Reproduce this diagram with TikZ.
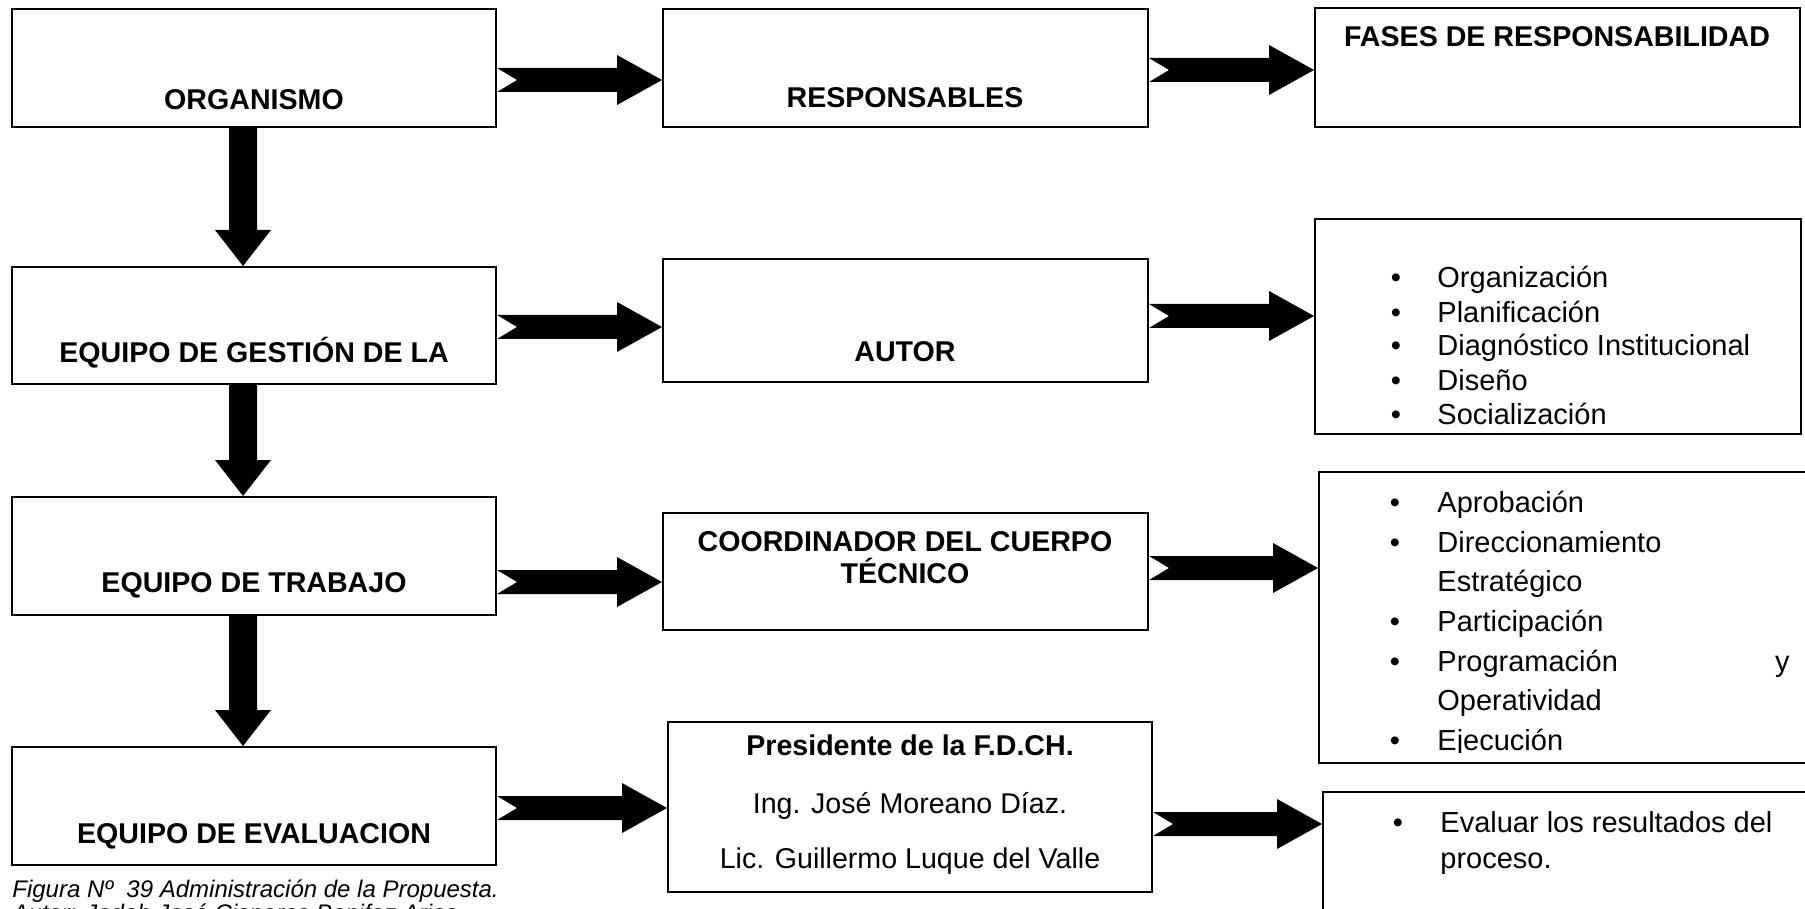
\documentclass[tikz,border=0pt]{standalone}
\usepackage{fontspec}
\setmainfont{Liberation Sans}
\usetikzlibrary{calc,fit}
\tikzset{
  box/.style={draw=black, line width=1pt, inner sep=0pt, fill=none},
  blbl/.style={font=\bfseries\fontsize{14.3}{17}\selectfont, anchor=base, inner sep=0pt},
  clbl/.style={font=\fontsize{14.3}{17}\selectfont, anchor=base, inner sep=0pt},
  itm/.style={font=\fontsize{14.5}{17}\selectfont, anchor=base west, inner sep=0pt},
  bul/.style={font=\fontsize{14.5}{17}\selectfont, anchor=base, inner sep=0pt},
  captxt/.style={font=\itshape\fontsize{12}{14}\selectfont, anchor=base west, inner sep=0pt},
}
\newcommand{\mkbox}[5]{%
  \coordinate (#1-nw) at (#2,#3);
  \coordinate (#1-se) at (#4,#5);
  \node[box, fit=(#1-nw)(#1-se)] (#1) {};}
\newcommand{\harr}[3]{%
  \coordinate (hy) at (0,#3);
  \coordinate (hs) at (#1.east |- hy);
  \coordinate (he) at (#2.west |- hy);
  \fill ($(hs)+(0,-12)$) -- ($(he)+(-45,-12)$) -- ($(he)+(-45,-25)$) -- (he)
    -- ($(he)+(-45,25)$) -- ($(he)+(-45,12)$) -- ($(hs)+(0,12)$) -- ($(hs)+(20,0)$) -- cycle;}
\newcommand{\varr}[2]{%
  \coordinate (vx) at (243,0);
  \coordinate (vs) at (vx |- #1.south);
  \coordinate (ve) at (vx |- #2.north);
  \fill ($(vs)+(-14,0)$) -- ($(ve)+(-14,-36)$) -- ($(ve)+(-28,-36)$) -- (ve)
    -- ($(ve)+(28,-36)$) -- ($(ve)+(14,-36)$) -- ($(vs)+(14,0)$) -- cycle;}
\begin{document}
\begin{tikzpicture}[x=0.5pt,y=-0.5pt]
\useasboundingbox (0,0) rectangle (1805,909);
\clip (0,0) rectangle (1805,909);
% boxes
\mkbox{org}{12}{9}{496}{127}
\mkbox{gest}{12}{267}{496}{384}
\mkbox{trab}{12}{497}{496}{615}
\mkbox{eval}{12}{747}{496}{865}
\mkbox{resp}{663}{9}{1148}{127}
\mkbox{autor}{663}{259}{1148}{382}
\mkbox{coord}{663}{513}{1148}{630}
\mkbox{pres}{668}{722}{1152}{892}
\mkbox{fases}{1315}{8}{1800}{127}
\mkbox{lista}{1315}{219}{1801}{434}
\mkbox{listb}{1319}{472}{1830}{763}
\mkbox{listc}{1323}{792}{1830}{940}
% vertical arrows
\varr{org}{gest}
\varr{gest}{trab}
\varr{trab}{eval}
% horizontal arrows
\harr{org}{resp}{80}
\harr{resp}{fases}{70}
\harr{gest}{autor}{327}
\harr{autor}{lista}{316}
\harr{trab}{coord}{582}
\harr{coord}{listb}{568}
\harr{eval}{pres}{808}
\harr{pres}{listc}{824}
% labels column 1
\node[blbl] (t-org) at (254,110) {ORGANISMO};
\node[blbl] (t-gest) at (254,363) {EQUIPO DE GESTIÓN DE LA};
\node[blbl] (t-trab) at (254,592) {EQUIPO DE TRABAJO};
\node[blbl] (t-eval) at (254,843) {EQUIPO DE EVALUACION};
% labels column 2
\node[blbl] (t-resp) at (905,108) {RESPONSABLES};
\node[blbl] (t-autor) at (905,361) {AUTOR};
\node[blbl] (t-coord1) at (905,551) {COORDINADOR DEL CUERPO};
\node[blbl] (t-coord2) at (905,583) {TÉCNICO};
\node[blbl] (t-pres1) at (910,755) {Presidente de la F.D.CH.};
\node[clbl] (t-pres2) at (910,813) {Ing. José Moreano Díaz.};
\node[clbl] (t-pres3) at (910,868) {Lic. Guillermo Luque del Valle};
% column 3
\node[blbl] (t-fases) at (1557,47) {FASES DE RESPONSABILIDAD};
\foreach \t/\yy [count=\i] in {Organización/288, Planificación/322, Diagnóstico Institucional/356, Diseño/390, Socialización/424}{
  \node[bul] (ba\i) at (1396,\yy) {•};
  \node[itm] (ia\i) at (1437,\yy) {\t};
}
\begin{scope}
\clip (1300,460) rectangle (1805,752);
\node[bul] (bb1) at (1395,512) {•};
\node[itm] (ib1) at (1437,512) {Aprobación};
\node[bul] (bb2) at (1395,552) {•};
\node[itm] (ib2) at (1437,552) {Direccionamiento};
\node[itm] (ib3) at (1437,591) {Estratégico};
\node[bul] (bb4) at (1395,631) {•};
\node[itm] (ib4) at (1437,631) {Participación};
\node[bul] (bb5) at (1395,671) {•};
\node[itm] (ib5) at (1437,671) {Programación};
\node[itm, anchor=base east] (ib5y) at (1790,671) {y};
\node[itm] (ib6) at (1437,710) {Operatividad};
\node[bul] (bb7) at (1395,750) {•};
\node[itm] (ib7) at (1437,750) {Ejecución};
\end{scope}
\node[bul] (bc1) at (1398,832) {•};
\node[itm] (ic1) at (1440,832) {Evaluar los resultados del};
\node[itm] (ic2) at (1440,868) {proceso.};
% caption
\node[captxt] (cap1) at (12,897) {Figura Nº~ 39 Administración de la Propuesta.};
\node[captxt] (cap2) at (12,921) {Autor: Jadeh José Cisneros Bonifaz Arias};
\end{tikzpicture}
\end{document}
